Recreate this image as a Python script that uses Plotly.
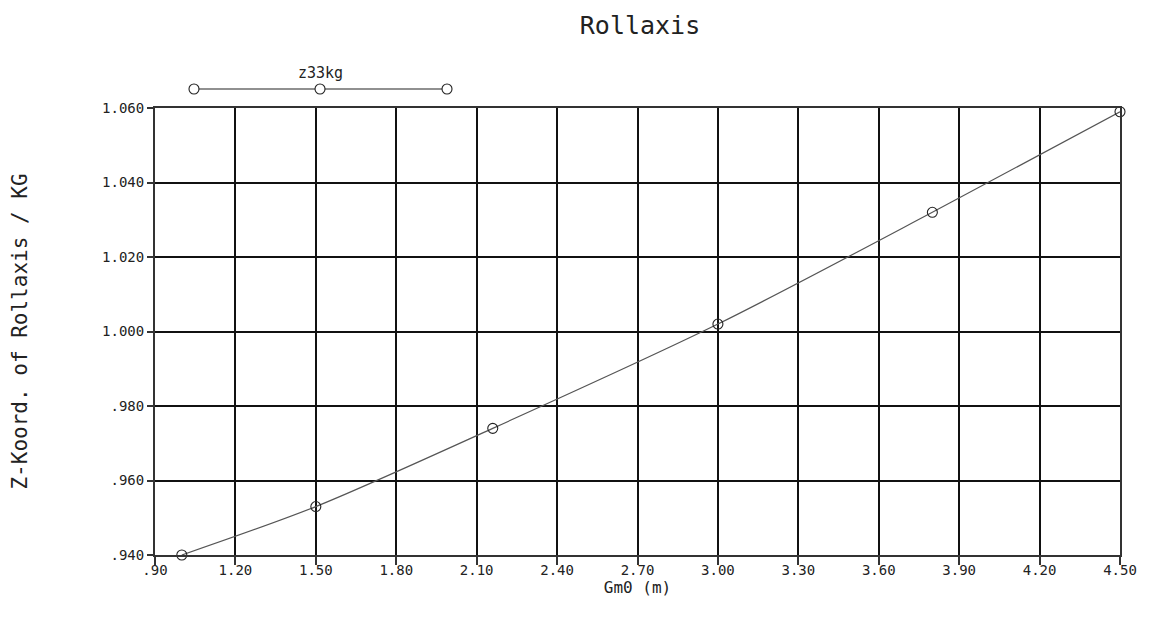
import plotly.graph_objects as go

# ---- data ----
gm0_values = [1.00, 1.50, 2.16, 3.00, 3.80, 4.50]
zkoord_ratio = [0.940, 0.953, 0.974, 1.002, 1.032, 1.059]

x_tick_values = [0.90, 1.20, 1.50, 1.80, 2.10, 2.40, 2.70, 3.00, 3.30, 3.60, 3.90, 4.20, 4.50]
x_tick_labels = [".90", "1.20", "1.50", "1.80", "2.10", "2.40", "2.70", "3.00", "3.30", "3.60", "3.90", "4.20", "4.50"]
y_tick_values = [0.940, 0.960, 0.980, 1.000, 1.020, 1.040, 1.060]
y_tick_labels = [".940", ".960", ".980", "1.000", "1.020", "1.040", "1.060"]

series_name = "z33kg"
chart_title = "Rollaxis"
x_title = "Gm0 (m)"
y_title = "Z-Koord. of Rollaxis / KG"

MONO = "DejaVu Sans Mono"

fig = go.Figure()
fig.add_trace(go.Scatter(
    x=gm0_values, y=zkoord_ratio, name=series_name,
    mode="lines+markers",
    line=dict(color="#555555", width=1.2, shape="spline", smoothing=0.8),
    marker=dict(symbol="circle-open", size=10, color="#222222", line=dict(width=1.1)),
    cliponaxis=False, showlegend=False,
))

# legend drawn like the reference: line with three open circles and label above
leg_y = 1.0425
leg_xs = [0.0404, 0.171, 0.3026]
shapes = [dict(type="line", xref="paper", yref="paper", x0=leg_xs[0], x1=leg_xs[-1],
               y0=leg_y, y1=leg_y, line=dict(color="#222222", width=1.2))]
for lx in leg_xs:
    shapes.append(dict(type="circle", xref="paper", yref="paper", xsizemode="pixel", ysizemode="pixel",
                       xanchor=lx, yanchor=leg_y, x0=-5, x1=5, y0=-5, y1=5,
                       line=dict(color="#222222", width=1.1), fillcolor="white"))

fig.update_layout(
    width=1159, height=628,
    margin=dict(l=147, r=47, t=100, b=81),
    paper_bgcolor="white", plot_bgcolor="white",
    font=dict(family=MONO, color="#222222", size=14),
    title=dict(text=chart_title, x=0.5026, xref="paper", xanchor="center",
               y=1 - 17 / 628, yref="container", yanchor="middle",
               font=dict(family=MONO, size=25, color="#222222")),
    shapes=shapes,
    annotations=[dict(text=series_name, xref="paper", yref="paper", x=leg_xs[1], y=1.078,
                      showarrow=False, xanchor="center", yanchor="middle",
                      font=dict(family=MONO, size=15, color="#222222"))],
    xaxis=dict(
        range=[0.90, 4.50], tickvals=x_tick_values, ticktext=x_tick_labels,
        showgrid=True, gridcolor="#111111", gridwidth=1.5,
        showline=True, linecolor="#333333", linewidth=2, mirror=True,
        ticks="outside", ticklen=8, tickwidth=1.5, tickcolor="#333333",
        ticklabelstandoff=-7,
        tickfont=dict(family=MONO, size=14), zeroline=False,
        title=dict(text=x_title, standoff=2, font=dict(family=MONO, size=16)),
        automargin=False,
    ),
    yaxis=dict(
        range=[0.940, 1.060], tickvals=y_tick_values, ticktext=y_tick_labels,
        showgrid=True, gridcolor="#111111", gridwidth=1.5,
        showline=True, linecolor="#333333", linewidth=2, mirror=True,
        ticks="outside", ticklen=6, tickwidth=1.5, tickcolor="#333333",
        tickfont=dict(family=MONO, size=14), zeroline=False,
        title=dict(text=y_title, standoff=72, font=dict(family=MONO, size=21)),
        automargin=False,
    ),
)

fig.write_html("out.html")
